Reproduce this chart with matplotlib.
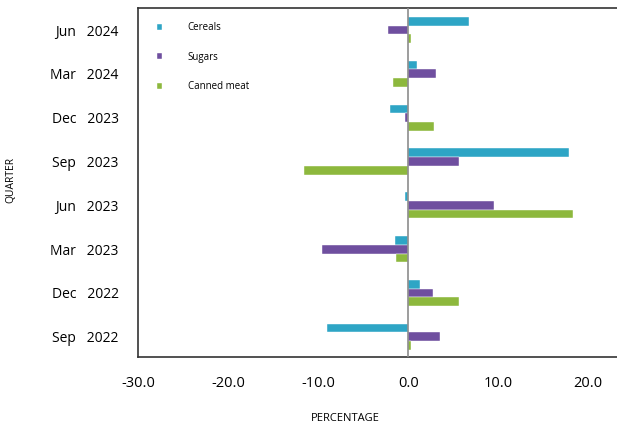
import matplotlib
matplotlib.use("Agg")
import matplotlib.pyplot as plt
import numpy as np

quarters = ["Sep   2022", "Dec   2022", "Mar   2023", "Jun   2023",
            "Sep   2023", "Dec   2023", "Mar   2024", "Jun   2024"]
cereals = [-9.0, 1.3, -1.5, -0.4, 17.9, -2.0, 1.0, 6.7]
sugars = [3.5, 2.7, -9.6, 9.5, 5.6, -0.4, 3.1, -2.2]
canned_meat = [0.3, 5.6, -1.4, 18.3, -11.6, 2.9, -1.7, 0.3]

series = [("Cereals", cereals, "#2ea5c5"),
          ("Sugars", sugars, "#6f4f9f"),
          ("Canned meat", canned_meat, "#8db83d")]

plt.rcParams['font.family'] = ['Open Sans', 'DejaVu Sans']

fig = plt.figure(figsize=(6.17, 4.28), dpi=100)
ax = fig.add_axes([0.224, 0.166, 0.776, 0.815])

y = np.arange(len(quarters))
h = 0.2
for i, (name, vals, col) in enumerate(series):
    ax.barh(y + (1 - i) * h, vals, height=h, color=col, label=name,
            edgecolor="white", linewidth=0.3)

ax.axvline(0, color="#8c8c8c", lw=1.2, zorder=3)
ax.set_xlim(-30, 23.2)
ax.set_ylim(-0.46, 7.5)
ax.set_xticks([-30, -20, -10, 0, 10, 20])
ax.set_xticklabels(["-30.0", "-20.0", "-10.0", "0.0", "10.0", "20.0"], fontsize=10.5)
ax.set_yticks(y)
ax.set_yticklabels(quarters, fontsize=10)
ax.tick_params(axis="x", length=0, pad=14)
ax.tick_params(axis="y", length=0, pad=14)

for s in ["left", "bottom", "top"]:
    ax.spines[s].set_color("#333333")
    ax.spines[s].set_linewidth(1.2)
ax.spines["right"].set_visible(False)

fig.text(0.56, 0.022, "PERCENTAGE", fontsize=8, ha="center", va="center")
fig.text(0.018, 0.58, "QUARTER", rotation=90, fontsize=7.5, ha="center", va="center")

ax.legend(loc="upper left", frameon=False, fontsize=7, handlelength=0.6,
          handleheight=0.6, handletextpad=2.6, labelspacing=1.9,
          bbox_to_anchor=(0.02, 0.985))

fig.savefig("out.png", dpi=100)
